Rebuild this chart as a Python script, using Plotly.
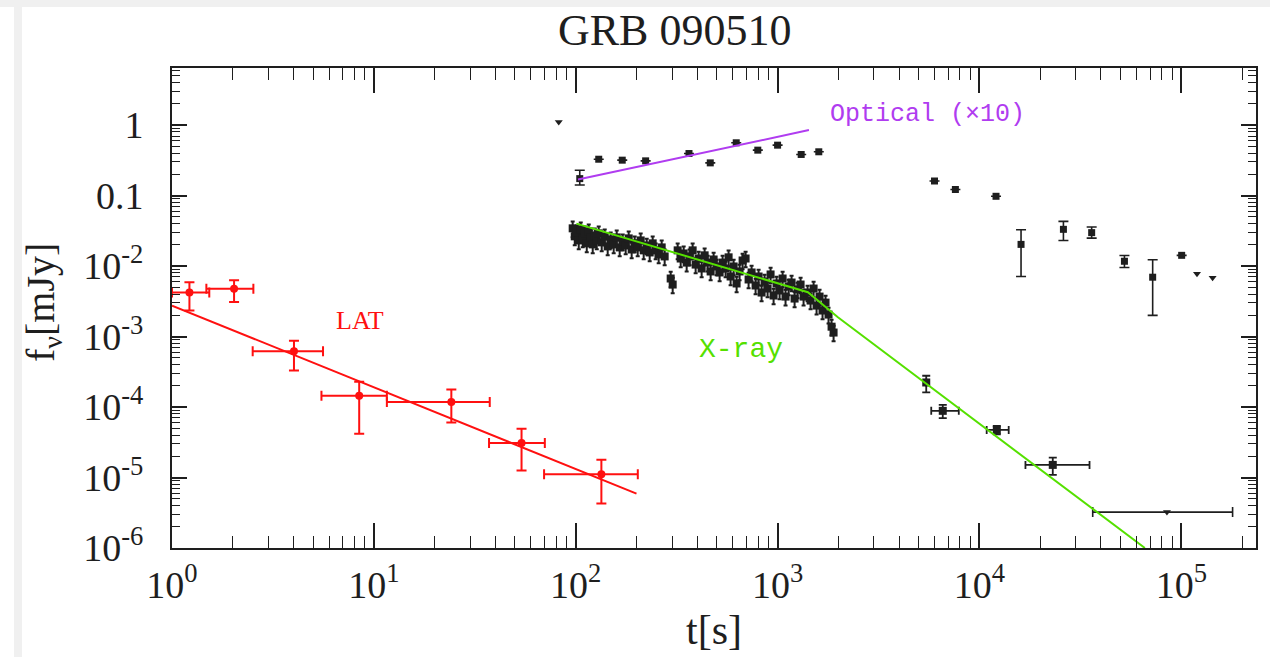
import numpy as np
import plotly.graph_objects as go

# ---------------- Fermi/LAT ----------------
lat_t = [1.22, 2.03, 4.02, 8.46, 24.2, 53.9, 134.0]
lat_t_lo = [1.0, 1.48, 2.51, 5.5, 11.6, 37.2, 69.7]
lat_t_hi = [1.53, 2.53, 5.6, 11.6, 37.5, 70.3, 203.0]
lat_f = [4.2e-3, 4.75e-3, 6.2e-4, 1.44e-4, 1.18e-4, 3.08e-5, 1.11e-5]
lat_f_lo = [2.34e-3, 3.09e-3, 3.31e-4, 4.17e-5, 6.03e-5, 1.26e-5, 4.27e-6]
lat_f_hi = [5.89e-3, 6.31e-3, 8.71e-4, 2.29e-4, 1.78e-4, 4.9e-5, 1.78e-5]
lat_fit_t = [1.0, 200.0]
lat_fit_f = [2.75e-3, 5.9e-6]

# ---------------- X-ray (XRT) ----------------
xrt_t = [96.6, 98.9, 101.2, 103.5, 105.9, 108.3, 110.8, 113.4, 116.0, 118.7,
         121.4, 124.2, 127.1, 130.0, 134.5, 139.2, 144.0, 149.0, 154.2, 159.6,
         165.1, 170.9, 176.8, 183.0, 189.3, 195.9, 202.8, 209.8, 217.1, 224.7,
         232.5, 240.6, 248.9, 257.6, 266.6, 275.8, 295.4, 302.2, 319.9, 331.1,
         342.6, 354.5, 366.7, 379.5, 392.7, 406.3, 420.5, 435.1, 450.2, 465.9,
         482.1, 498.8, 516.2, 534.1, 552.7, 571.9, 585.1, 605.6, 626.6, 648.4,
         670.9, 694.3, 718.4, 743.4, 778.1, 805.2, 833.2, 862.1, 892.2, 923.2,
         955.4, 988.5, 1023, 1059, 1095, 1134, 1173, 1214, 1256, 1300,
         1345, 1408, 1457, 1508, 1560, 1614, 1670, 1728, 1788, 1851, 1894]
xrt_f = [0.0343, 0.0264, 0.0301, 0.0231, 0.0332, 0.0247, 0.0291, 0.0210, 0.0311, 0.0255,
         0.0203, 0.0272, 0.0231, 0.0291, 0.0217, 0.0264, 0.0190, 0.0239, 0.0203, 0.0255,
         0.0184, 0.0224, 0.0196, 0.0247, 0.0172, 0.0210, 0.0184, 0.0231, 0.0167, 0.0196,
         0.0156, 0.0210, 0.0167, 0.0146, 0.0184, 0.0137, 6.66e-3, 5.47e-3, 0.0167, 0.0128,
         0.0151, 0.0112, 0.0137, 0.0167, 0.0105, 0.0128, 9.24e-3, 0.0142, 0.0112, 8.38e-3,
         0.0124, 9.87e-3, 8.11e-3, 0.0112, 9.24e-3, 0.0133, 7.11e-3, 9.87e-3, 5.66e-3, 8.38e-3,
         0.0120, 0.0128, 6.45e-3, 8.11e-3, 5.30e-3, 7.11e-3, 4.21e-3, 6.04e-3, 4.80e-3, 7.60e-3,
         3.82e-3, 5.66e-3, 4.50e-3, 6.66e-3, 3.69e-3, 5.13e-3, 5.84e-3, 3.46e-3, 4.65e-3, 5.47e-3,
         3.69e-3, 4.21e-3, 3.24e-3, 4.80e-3, 2.75e-3, 3.69e-3, 2.34e-3, 3.03e-3, 2.05e-3, 1.38e-3, 1.14e-3]

xrt_late_t = [5450, 6580, 12190, 23080]
xrt_late_t_lo = [5450, 5770, 10860, 16900]
xrt_late_t_hi = [5450, 7900, 13960, 35100]
xrt_late_f = [2.23e-4, 8.83e-5, 4.74e-5, 1.51e-5]
xrt_late_f_lo = [1.61e-4, 6.95e-5, 4.11e-5, 1.09e-5]
xrt_late_f_hi = [2.78e-4, 1.07e-4, 5.41e-5, 1.91e-5]

xrt_ul_t = [84900]
xrt_ul_t_lo = [36400]
xrt_ul_t_hi = [179500]
xrt_ul_f = [3.23e-6]

xrt_fit_t = [100.8, 1413, 1990, 66000]
xrt_fit_f = [0.040, 4.26e-3, 1.875e-3, 1.0e-6]

# ---------------- Optical (x10) ----------------
opt_t = [104.7, 130, 170, 222, 364, 464, 624, 798, 1000, 1309, 1600,
         5990, 7600, 12080, 16070, 26060, 35970, 52270, 72130, 100400]
opt_f = [0.174, 0.328, 0.318, 0.311, 0.395, 0.291, 0.561, 0.441, 0.519, 0.383, 0.418,
         0.161, 0.122, 0.0977, 0.0203, 0.0332, 0.0298, 0.0117, 6.95e-3, 0.0142]
opt_f_lo = [0.141, 0.328, 0.318, 0.311, 0.395, 0.291, 0.561, 0.441, 0.519, 0.383, 0.418,
            0.161, 0.122, 0.0977, 7.11e-3, 0.0231, 0.0249, 9.55e-3, 2.0e-3, 0.0142]
opt_f_hi = [0.229, 0.328, 0.318, 0.311, 0.395, 0.291, 0.561, 0.441, 0.519, 0.383, 0.418,
            0.161, 0.122, 0.0977, 0.0328, 0.0431, 0.0358, 0.0141, 0.0123, 0.0142]

opt_ul_t = [82.4, 119600, 142900]
opt_ul_f = [1.11, 7.8e-3, 6.8e-3]

opt_fit_t = [102.6, 1430]
opt_fit_f = [0.1687, 0.849]

# ---------------- axis ticks ----------------
x_major = [1, 10, 100, 1e3, 1e4, 1e5]
x_labels = ["10<sup>0</sup>", "10<sup>1</sup>", "10<sup>2</sup>",
            "10<sup>3</sup>", "10<sup>4</sup>", "10<sup>5</sup>"]
y_major = [1e-6, 1e-5, 1e-4, 1e-3, 1e-2, 0.1, 1]
y_labels = ["10<sup>-6</sup>", "10<sup>-5</sup>", "10<sup>-4</sup>",
            "10<sup>-3</sup>", "10<sup>-2</sup>", "0.1", "1"]
PAD = "\u2002"  # en space between y labels and the frame

X_RANGE = [0, 5.37]
Y_RANGE = [-6, 0.81]

RED = "#ff1010"
GREEN = "#55e000"
PURPLE = "#b03cf0"
INK = "#1e1e1e"


def minus(v, lo):
    return [a - b for a, b in zip(v, lo)]


def plus(v, hi):
    return [b - a for a, b in zip(v, hi)]


fig = go.Figure()

# X-ray light curve (dense early part)
fig.add_trace(go.Scatter(
    x=xrt_t, y=xrt_f, mode="markers",
    marker=dict(symbol="square", size=8, color=INK),
    error_y=dict(type="percent", value=25, color=INK, thickness=2, width=2),
    error_x=dict(type="percent", value=2.5, color=INK, thickness=2, width=2),
))
# X-ray late points
fig.add_trace(go.Scatter(
    x=xrt_late_t, y=xrt_late_f, mode="markers",
    marker=dict(symbol="square", size=8, color=INK),
    error_y=dict(type="data", symmetric=False,
                 array=plus(xrt_late_f, xrt_late_f_hi),
                 arrayminus=minus(xrt_late_f, xrt_late_f_lo),
                 color=INK, thickness=1.8, width=4),
    error_x=dict(type="data", symmetric=False,
                 array=plus(xrt_late_t, xrt_late_t_hi),
                 arrayminus=minus(xrt_late_t, xrt_late_t_lo),
                 color=INK, thickness=1.8, width=4),
))
# X-ray upper limit
fig.add_trace(go.Scatter(
    x=xrt_ul_t, y=xrt_ul_f, mode="markers",
    marker=dict(symbol="triangle-down", size=7, color=INK),
    error_x=dict(type="data", symmetric=False,
                 array=plus(xrt_ul_t, xrt_ul_t_hi),
                 arrayminus=minus(xrt_ul_t, xrt_ul_t_lo),
                 color=INK, thickness=1.6, width=5),
))
# Optical detections
fig.add_trace(go.Scatter(
    x=opt_t, y=opt_f, mode="markers",
    marker=dict(symbol="square", size=7, color=INK),
    error_y=dict(type="data", symmetric=False,
                 array=plus(opt_f, opt_f_hi),
                 arrayminus=minus(opt_f, opt_f_lo),
                 color=INK, thickness=1.6, width=5),
))
# Optical upper limits
fig.add_trace(go.Scatter(
    x=opt_ul_t, y=opt_ul_f, mode="markers",
    marker=dict(symbol="triangle-down", size=7, color=INK),
))
# LAT points
fig.add_trace(go.Scatter(
    x=lat_t, y=lat_f, mode="markers",
    marker=dict(symbol="circle", size=8, color=RED),
    error_y=dict(type="data", symmetric=False,
                 array=plus(lat_f, lat_f_hi), arrayminus=minus(lat_f, lat_f_lo),
                 color=RED, thickness=2, width=5),
    error_x=dict(type="data", symmetric=False,
                 array=plus(lat_t, lat_t_hi), arrayminus=minus(lat_t, lat_t_lo),
                 color=RED, thickness=2, width=5),
))

# Power-law fits
fig.add_trace(go.Scatter(x=lat_fit_t, y=lat_fit_f, mode="lines",
                         line=dict(color=RED, width=2)))
fig.add_trace(go.Scatter(x=xrt_fit_t, y=xrt_fit_f, mode="lines",
                         line=dict(color=GREEN, width=2)))
fig.add_trace(go.Scatter(x=opt_fit_t, y=opt_fit_f, mode="lines",
                         line=dict(color=PURPLE, width=2)))

axis_common = dict(
    type="log", tickmode="array", ticks="inside", tickcolor=INK, tickwidth=1.6,
    showline=True, linecolor=INK, linewidth=2, mirror="ticks",
    showgrid=False, zeroline=False,
    tickfont=dict(family="Liberation Serif", size=38, color=INK),
)

fig.update_layout(
    xaxis=dict(
        **axis_common, range=X_RANGE, tickvals=x_major, ticktext=x_labels,
        ticklen=25, ticklabelstandoff=2,
        minor=dict(tickmode="linear", dtick="D1", ticks="inside",
                   ticklen=12, tickwidth=1.3, tickcolor=INK, showgrid=False),
    ),
    yaxis=dict(
        **axis_common, range=Y_RANGE, tickvals=y_major,
        ticktext=[s + PAD for s in y_labels],
        ticklen=15,
        minor=dict(tickmode="linear", dtick="D1", ticks="inside",
                   ticklen=8, tickwidth=1.3, tickcolor=INK, showgrid=False),
    ),
)


def px_x(px):
    return (px - 172) / 1084


def px_y(py):
    return (548 - py) / 480


annotations = [
    dict(text="GRB 090510", xref="paper", yref="paper",
         x=px_x(674), y=px_y(31), xanchor="center", yanchor="middle", showarrow=False,
         font=dict(family="Liberation Serif", size=44, color=INK)),
    dict(text="t[s]", xref="paper", yref="paper",
         x=px_x(714), y=px_y(630), xanchor="center", yanchor="middle", showarrow=False,
         font=dict(family="Liberation Serif", size=42, color=INK)),
    dict(text="f<sub>ν</sub>[mJy]", xref="paper", yref="paper", textangle=-90,
         x=px_x(43), y=px_y(303), xanchor="center", yanchor="middle", showarrow=False,
         font=dict(family="Liberation Serif", size=40, color=INK)),
    dict(text="LAT", x=np.log10(8.53), y=np.log10(1.68e-3), showarrow=False,
         font=dict(family="Liberation Serif", size=26, color=RED)),
    dict(text="X-ray", x=np.log10(656), y=np.log10(6.5e-4), showarrow=False,
         font=dict(family="Liberation Mono", size=28, color=GREEN)),
    dict(text="Optical (×10)", x=np.log10(5530), y=np.log10(1.43), showarrow=False,
         font=dict(family="Liberation Mono", size=25, color=PURPLE)),
]

shapes = [
    dict(type="rect", xref="paper", yref="paper", layer="below",
         x0=-0.2, x1=1.02, y0=px_y(7), y1=px_y(-2),
         fillcolor="#f0f0f0", line=dict(width=0)),
    dict(type="rect", xref="paper", yref="paper", layer="below",
         x0=px_x(14), x1=px_x(22), y0=-0.3, y1=1.2,
         fillcolor="#f0f0f0", line=dict(width=0)),
]

fig.update_layout(
    width=1270, height=657,
    margin=dict(l=172, r=14, t=68, b=109),
    paper_bgcolor="white", plot_bgcolor="white",
    showlegend=False,
    annotations=annotations, shapes=shapes,
    font=dict(family="Liberation Serif", color=INK),
)

fig.write_html("out.html")
